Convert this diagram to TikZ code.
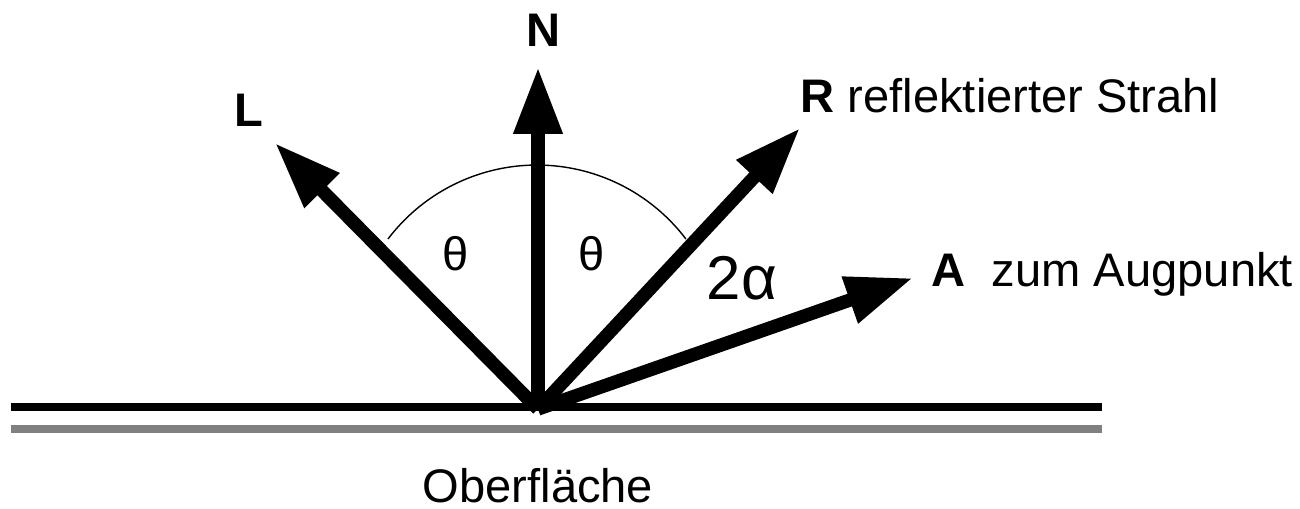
\documentclass[tikz,border=0pt]{standalone}
\usepackage{fontspec}
\setmainfont{Liberation Sans}
\usepackage{tikz}
\usetikzlibrary{arrows.meta}
\definecolor{ink}{HTML}{000000}
\definecolor{shade}{HTML}{808080}
\tikzset{
  vecarrow/.style={
    -{Triangle[length=0.67cm, width=0.46cm]}, line width=3.8pt, color=ink
  },
  surface/.style={
    line width=2pt, color=#1
  },
  surface/.default=ink,
  anglearc/.style={
    thin, color=ink
  },
  lbl/.style={
    font=\fontsize{13.4}{16}\selectfont, inner sep=0pt
  },
  biglbl/.style={
    font=\fontsize{17.6}{20}\selectfont, inner sep=0pt
  },
}
\begin{document}
\begin{tikzpicture}
  \useasboundingbox (0,0) rectangle (13,5.09);

  % surface and its shadow
  \coordinate (sl) at (0.11,1.02);
  \coordinate (sr) at (11.02,1.02);
  \coordinate (gl) at (0.11,0.80);
  \coordinate (gr) at (11.02,0.80);
  \draw[surface] (sl) -- (sr);
  \draw[surface=shade] (gl) -- (gr);

  % vectors from the hit point
  \coordinate (O) at (5.38,1.00);
  \coordinate (tipN) at (5.38,4.42);
  \coordinate (tipL) at (2.75,3.66);
  \coordinate (tipR) at (8.00,3.81);
  \coordinate (tipA) at (9.13,2.31);

  % angle arc
  \draw[anglearc] (3.88,2.70) arc[start angle=142.8, end angle=37.2, radius=1.87];

  \draw[vecarrow] (O) -- (tipL);
  \draw[vecarrow] (O) -- (tipN);
  \draw[vecarrow] (O) -- (tipR);
  \draw[vecarrow] (O) -- (tipA);

  \node[lbl, font=\fontsize{13.4}{16}\selectfont\bfseries] (labN) at (5.43,4.79) {N};
  \node[lbl, font=\fontsize{13.4}{16}\selectfont\bfseries] (labL) at (2.49,3.99) {L};
  \node[lbl, anchor=base west] (labR) at (8.00,3.96) {\textbf{R} reflektierter Strahl};
  \node[lbl, anchor=base west] (labA) at (9.31,2.22) {\textbf{A}\ \ zum Augpunkt};
  \node[lbl] (th1) at (4.56,2.55) {θ};
  \node[lbl] (th2) at (5.92,2.55) {θ};
  \node[biglbl, anchor=base] (alpha) at (7.42,2.09) {2α};
  \node[lbl, anchor=base] (surf) at (5.38,0.06) {Oberfläche};
\end{tikzpicture}
\end{document}
